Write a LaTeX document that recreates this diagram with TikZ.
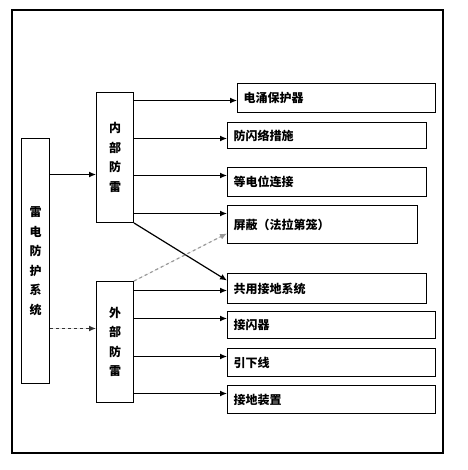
\documentclass[tikz,border=0pt]{standalone}
\usepackage{fontspec}
\setmainfont{Noto Sans CJK SC}
\usetikzlibrary{arrows.meta,calc}

\tikzset{
  sidebox/.style={draw, line width=1pt, anchor=north west, inner sep=0pt, align=center,
    font=\fontsize{12}{19.5}\selectfont\bfseries},
  itembox/.style={draw, line width=1pt, anchor=north west, inner xsep=6pt, inner ysep=0pt,
    align=left, font=\fontsize{12}{14}\selectfont\bfseries},
  arr/.style={-{Latex[length=7pt,width=6pt]}, line width=1.2pt},
  dasharr/.style={arr, dashed, draw=gray!80, fill=gray!80}
}

\begin{document}
\begin{tikzpicture}[x=1pt, y=-1pt]
  \useasboundingbox (0,0) rectangle (467,470);
  % outer frame
  \draw[line width=1.1pt] (12,10) rectangle (443,453);
  % left column
  \node[sidebox, minimum width=28pt, minimum height=245pt] (sys) at (21,138) {雷\\电\\防\\护\\系\\统};
  \node[sidebox, minimum width=37pt, minimum height=130pt] (inner) at (96,92) {内\\部\\防\\雷};
  \node[sidebox, minimum width=37pt, minimum height=121pt] (outer) at (96,281) {外\\部\\防\\雷};
  % measures on the right
  \foreach \n/\x/\y/\w/\h/\t in {sp/237/83/198/29/电涌保护器,
      fs/227/122/199/26/防闪络措施,
      dd/227/167/199/29/等电位连接,
      sh/227/205/190/38/屏蔽（法拉第笼）,
      gs/227/273/199/30/共用接地系统,
      js/227/311/208/27/接闪器,
      yx/227/348/208/28/引下线,
      jd/227/385/208/28/接地装置} {
    \node[itembox, text width=\w pt-12pt, minimum height=\h pt] (\n) at (\x,\y) {\t};
  }
  % connectors
  \draw[arr] ([yshift=-17pt]inner.west -| sys.east) -- ([yshift=-17pt]inner.west);
  \draw[dasharr, draw=gray!40!black, fill=gray!40!black] ([yshift=13.5pt]outer.west -| sys.east) -- ([yshift=13.5pt]outer.west);
  \foreach \n/\d in {sp/-2.5, fs/-3, dd/6.5, sh/11} {
    \draw[arr] ([yshift=\d pt]\n.west -| inner.east) -- ([yshift=\d pt]\n.west);
  }
  \foreach \n/\d in {gs/-2, js/6.5, yx/6, jd/6} {
    \draw[arr] ([yshift=\d pt]\n.west -| outer.east) -- ([yshift=\d pt]\n.west);
  }
  \draw[arr] (inner.south east) -- ([yshift=8pt]gs.west);
  \draw[dasharr] (outer.north east) -- ([yshift=-9pt]sh.west);
\end{tikzpicture}
\end{document}
